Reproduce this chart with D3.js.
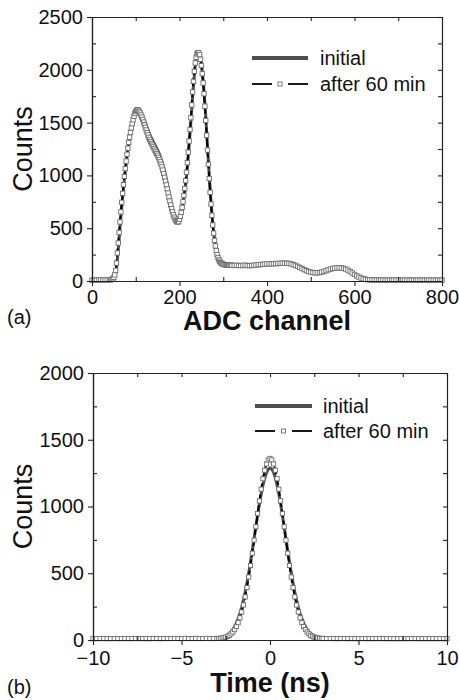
<!DOCTYPE html>
<html>
<head>
<meta charset="utf-8">
<script src="https://cdn.jsdelivr.net/npm/d3@7"></script>
<style>
  html, body { margin: 0; padding: 0; background: #fff; }
  svg { display: block; font-family: "Liberation Sans", Arial, sans-serif; }
</style>
</head>
<body>
<svg id="chart" width="459" height="700"></svg>
<script>
// ---------------- DATA ----------------
const seriesNames = ["initial", "after 60 min"];

// Panel (a): ADC channel (step 5 outside the peaks, step 2 across them)
const adcChannel = [
  0,5,10,15,20,25,30,35,
  40,42,44,46,48,50,52,54,56,58,60,62,64,66,68,70,72,74,76,78,
  80,82,84,86,88,90,92,94,96,98,100,102,104,106,108,110,112,114,116,118,
  120,122,124,126,128,130,132,134,136,138,140,142,144,146,148,150,152,154,156,158,
  160,162,164,166,168,170,172,174,176,178,180,182,184,186,188,190,192,194,196,198,
  200,202,204,206,208,210,212,214,216,218,220,222,224,226,228,230,232,234,236,238,
  240,242,244,246,248,250,252,254,256,258,260,262,264,266,268,270,272,274,276,278,
  280,282,284,286,288,290,292,294,296,298,300,302,304,306,308,310,312,314,316,318,320,
  325,330,335,340,345,350,355,360,365,370,375,380,385,390,395,
  400,405,410,415,420,425,430,435,440,445,450,455,460,465,470,475,480,485,490,495,
  500,505,510,515,520,525,530,535,540,545,550,555,560,565,570,575,580,585,590,595,
  600,605,610,615,620,625,630,635,640,645,650,655,660,665,670,675,680,685,690,695,
  700,705,710,715,720,725,730,735,740,745,750,755,760,765,770,775,780,785,790,795,800
];
const adcInitial = [
  8,8,9,8,9,9,10,10,
  11,12,13,15,18,25,40,65,120,210,300,400,510,610,700,790,875,960,1040,1110,
  1180,1240,1295,1345,1390,1430,1470,1510,1545,1575,1600,1618,1628,1630,1622,1610,1595,1578,1560,1540,
  1520,1498,1476,1454,1432,1410,1390,1370,1352,1336,1320,1304,1288,1272,1256,1240,1220,1200,1178,1155,
  1130,1100,1068,1033,997,960,920,880,840,800,760,722,686,655,628,605,587,574,566,565,
  578,600,632,675,725,780,843,913,988,1078,1180,1285,1395,1505,1625,1750,1855,1955,2040,2100,
  2140,2160,2168,2158,2120,2060,1985,1900,1800,1685,1560,1420,1280,1140,1005,870,755,645,550,470,
  400,345,298,258,228,205,190,178,169,163,160,158,156,154,153,152,151,150,150,150,150,
  148,150,148,147,148,150,148,146,147,150,152,155,157,158,160,
  162,162,164,165,166,167,168,170,170,169,167,163,157,150,140,130,120,110,100,92,
  86,82,80,80,82,86,92,100,108,115,120,124,126,127,126,122,115,105,92,78,
  64,50,38,29,22,17,14,12,11,10,9,9,10,9,8,9,9,8,9,9,
  8,9,8,8,9,8,8,9,8,8,9,8,8,8,9,8,8,8,8,8,8
];
const adcAfter60 = [
  8,8,8,9,9,9,10,10,
  11,12,14,17,22,35,58,100,170,265,360,460,560,655,745,830,912,990,1065,1135,
  1200,1258,1312,1362,1407,1450,1490,1527,1560,1587,1605,1617,1621,1617,1605,1590,1572,1552,1530,1505,
  1480,1455,1430,1406,1383,1360,1340,1320,1302,1286,1270,1254,1238,1222,1206,1190,1170,1150,1128,1105,
  1080,1050,1017,982,946,910,871,833,795,757,720,685,654,627,604,585,571,562,558,562,
  585,612,650,697,750,810,876,950,1030,1120,1220,1325,1435,1547,1667,1790,1890,1985,2065,2118,
  2150,2162,2160,2142,2100,2040,1963,1875,1773,1655,1520,1380,1240,1105,970,840,728,622,530,453,
  385,332,288,250,222,200,186,175,167,162,158,156,154,152,151,150,150,149,149,148,148,
  147,149,147,146,147,149,147,145,147,149,151,154,156,157,159,
  161,162,163,164,165,166,167,169,169,168,166,162,155,148,138,128,118,108,98,90,
  84,80,78,78,80,84,90,98,106,113,118,122,124,125,124,120,113,103,90,76,
  62,48,37,28,21,16,13,11,10,9,9,9,9,9,8,8,9,8,8,9,
  8,8,8,8,9,8,8,8,8,8,8,8,8,8,8,8,8,8,8,8,8
];

// Panel (b): time in ns
const timeNs = [
  -10,-9.8,-9.6,-9.4,-9.2,-9,-8.8,-8.6,-8.4,-8.2,-8,-7.8,-7.6,-7.4,-7.2,-7,-6.8,-6.6,-6.4,-6.2,
  -6,-5.8,-5.6,-5.4,-5.2,-5,-4.8,-4.6,-4.4,-4.2,-4,-3.8,-3.6,-3.4,-3.2,
  -3,-2.9,-2.8,-2.7,-2.6,-2.5,-2.4,-2.3,-2.2,-2.1,-2,-1.9,-1.8,-1.7,-1.6,-1.5,-1.4,-1.3,-1.2,-1.1,
  -1,-0.9,-0.8,-0.7,-0.6,-0.5,-0.4,-0.3,-0.2,-0.1,0,0.1,0.2,0.3,0.4,0.5,0.6,0.7,0.8,0.9,
  1,1.1,1.2,1.3,1.4,1.5,1.6,1.7,1.8,1.9,2,2.1,2.2,2.3,2.4,2.5,2.6,2.7,2.8,2.9,3,
  3.2,3.4,3.6,3.8,4,4.2,4.4,4.6,4.8,5,5.2,5.4,5.6,5.8,6,6.2,6.4,6.6,6.8,7,
  7.2,7.4,7.6,7.8,8,8.2,8.4,8.6,8.8,9,9.2,9.4,9.6,9.8,10
];
const timeInitial = [
  10,10,11,10,10,11,10,11,10,10,11,10,11,11,10,11,11,10,11,11,
  12,11,12,12,11,12,11,12,12,11,12,12,11,12,12,
  12,13,15,18,23,29,36,46,60,78,100,126,160,199,245,299,360,428,503,585,
  670,758,847,933,1016,1092,1158,1212,1253,1278,1288,1280,1256,1215,1160,1094,1018,935,848,759,
  670,585,503,428,360,299,245,199,160,127,100,79,61,48,38,30,24,19,16,14,13,
  12,12,11,11,12,11,11,11,10,11,11,10,11,10,10,11,10,10,11,10,
  10,10,11,10,10,10,10,10,11,10,10,10,10,10,10
];
const timeAfter60 = [
  10,10,10,11,10,10,11,10,10,11,10,10,11,10,11,10,10,11,11,10,
  11,11,11,12,11,11,12,11,11,12,11,11,12,11,11,
  11,12,13,15,18,22,28,35,46,60,78,101,130,166,210,262,323,393,472,558,
  650,748,848,947,1042,1130,1208,1272,1319,1349,1360,1349,1319,1272,1208,1130,1042,947,848,748,
  650,558,472,393,323,262,210,166,130,101,78,60,46,35,28,22,18,15,13,12,11,
  11,11,11,10,11,11,10,11,10,10,11,10,10,10,11,10,10,10,10,10,
  10,10,10,10,11,10,10,10,10,10,10,10,10,10,10
];

// Tick values
const adcMajorTicks = [0, 200, 400, 600, 800];
const adcMinorTicks = [100, 300, 500, 700];
const adcCountMajor = [0, 500, 1000, 1500, 2000, 2500];
const adcCountMinor = [250, 750, 1250, 1750, 2250];
const timeMajorTicks = [-10, -5, 0, 5, 10];
const timeMinorTicks = [-7.5, -2.5, 2.5, 7.5];
const timeCountMajor = [0, 500, 1000, 1500, 2000];
const timeCountMinor = [250, 750, 1250, 1750];

// ---------------- DRAW ----------------
const svg = d3.select("#chart");
const AXIS = "#222";
const LINE1 = "#4d4d4d";
const SQ_STROKE = "#6e6e6e";

function panel(cfg) {
  const x = d3.scaleLinear().domain(cfg.xDomain).range([cfg.left, cfg.right]);
  const y = d3.scaleLinear().domain(cfg.yDomain).range([cfg.bottom, cfg.top]);
  const g = svg.append("g");

  const pts1 = cfg.xs.map((d, i) => [d, cfg.y1[i]]);
  const pts2 = cfg.xs.map((d, i) => [d, cfg.y2[i]]);
  const line = d3.line().x(d => x(d[0])).y(d => y(d[1]));

  // initial: thick grey line
  g.append("path").attr("d", line(pts1)).attr("fill", "none")
    .attr("stroke", LINE1).attr("stroke-width", 3).attr("stroke-linejoin", "round");
  // after 60 min: dashed black line + open squares
  g.append("path").attr("d", line(pts2)).attr("fill", "none")
    .attr("stroke", "#000").attr("stroke-width", 2).attr("stroke-dasharray", "8,3");
  const s = cfg.sq;
  g.append("g").selectAll("rect").data(pts2).join("rect")
    .attr("x", d => x(d[0]) - s / 2).attr("y", d => y(d[1]) - s / 2)
    .attr("width", s).attr("height", s)
    .attr("fill", "#fff").attr("stroke", SQ_STROKE).attr("stroke-width", 0.9);

  // axes
  const styleAxis = sel => {
    sel.select(".domain").attr("stroke", AXIS).attr("stroke-width", 1.2);
    sel.selectAll(".tick line").attr("stroke", AXIS).attr("stroke-width", 1.1);
    sel.selectAll(".tick text").attr("fill", "#111").attr("font-size", 20)
      .attr("font-family", "Liberation Sans, Arial, sans-serif");
  };
  g.append("g").attr("transform", `translate(0,${cfg.bottom})`)
    .call(d3.axisBottom(x).tickValues(cfg.xMajor).tickSize(5).tickSizeOuter(0).tickPadding(cfg.xPad))
    .call(styleAxis);
  g.append("g").attr("transform", `translate(0,${cfg.bottom})`)
    .call(d3.axisTop(x).tickValues(cfg.xMinor).tickSize(4).tickSizeOuter(0).tickFormat(""))
    .call(styleAxis);
  g.append("g").attr("transform", `translate(0,${cfg.top})`)
    .call(d3.axisBottom(x).tickValues(cfg.xMajor.concat(cfg.xMinor)).tickSize(4).tickSizeOuter(0).tickFormat(""))
    .call(styleAxis);
  g.append("g").attr("transform", `translate(${cfg.left},0)`)
    .call(d3.axisLeft(y).tickValues(cfg.yMajor).tickSize(5).tickSizeOuter(0).tickPadding(4).tickFormat(d3.format("d")))
    .call(styleAxis);
  g.append("g").attr("transform", `translate(${cfg.left},0)`)
    .call(d3.axisRight(y).tickValues(cfg.yMinor).tickSize(4).tickSizeOuter(0).tickFormat(""))
    .call(styleAxis);
  g.append("g").attr("transform", `translate(${cfg.right},0)`)
    .call(d3.axisLeft(y).tickValues(cfg.yMajor.concat(cfg.yMinor)).tickSize(4).tickSizeOuter(0).tickFormat(""))
    .call(styleAxis);

  // axis titles
  g.append("text").attr("x", (cfg.left + cfg.right) / 2).attr("y", cfg.xTitleY)
    .attr("text-anchor", "middle").attr("font-size", 27).attr("font-weight", "bold")
    .attr("fill", "#111").text(cfg.xTitle);
  g.append("text")
    .attr("transform", `translate(32,${(cfg.top + cfg.bottom) / 2}) rotate(-90)`)
    .attr("text-anchor", "middle").attr("font-size", 27).attr("fill", "#111")
    .text("Counts");
  g.append("text").attr("x", 7).attr("y", cfg.tagY).attr("font-size", 20)
    .attr("fill", "#111").text(cfg.tag);

  // legend
  const L = cfg.legend;
  const lg = g.append("g");
  lg.append("line").attr("x1", L.x1).attr("x2", L.x2).attr("y1", L.y1).attr("y2", L.y1)
    .attr("stroke", LINE1).attr("stroke-width", 4);
  lg.append("line").attr("x1", L.x1).attr("x2", L.x1 + 20).attr("y1", L.y2).attr("y2", L.y2)
    .attr("stroke", "#000").attr("stroke-width", 1.8);
  lg.append("line").attr("x1", L.x2 - 20).attr("x2", L.x2).attr("y1", L.y2).attr("y2", L.y2)
    .attr("stroke", "#000").attr("stroke-width", 1.8);
  const mx = (L.x1 + L.x2) / 2;
  lg.append("rect").attr("x", mx - 2).attr("y", L.y2 - 2).attr("width", 4).attr("height", 4)
    .attr("fill", "#fff").attr("stroke", SQ_STROKE).attr("stroke-width", 0.9);
  lg.append("text").attr("x", L.tx).attr("y", L.y1 + 7).attr("font-size", 20).attr("fill", "#111")
    .text(seriesNames[0]);
  lg.append("text").attr("x", L.tx).attr("y", L.y2 + 7).attr("font-size", 20).attr("fill", "#111")
    .text(seriesNames[1]);
}

panel({
  xDomain: [0, 800], yDomain: [0, 2500],
  left: 92, right: 442, top: 17, bottom: 281,
  xs: adcChannel, y1: adcInitial, y2: adcAfter60, sq: 4.4, xPad: 4,
  xMajor: adcMajorTicks, xMinor: adcMinorTicks,
  yMajor: adcCountMajor, yMinor: adcCountMinor,
  xTitle: "ADC channel", xTitleY: 330, tag: "(a)", tagY: 324,
  legend: { x1: 252, x2: 308, y1: 58, y2: 84, tx: 320 }
});

panel({
  xDomain: [-10, 10], yDomain: [0, 2000],
  left: 93, right: 447, top: 373, bottom: 640,
  xs: timeNs, y1: timeInitial, y2: timeAfter60, sq: 4.2, xPad: 6,
  xMajor: timeMajorTicks, xMinor: timeMinorTicks,
  yMajor: timeCountMajor, yMinor: timeCountMinor,
  xTitle: "Time (ns)", xTitleY: 692, tag: "(b)", tagY: 694,
  legend: { x1: 255, x2: 312, y1: 406, y2: 431, tx: 323 }
});
</script>
</body>
</html>
